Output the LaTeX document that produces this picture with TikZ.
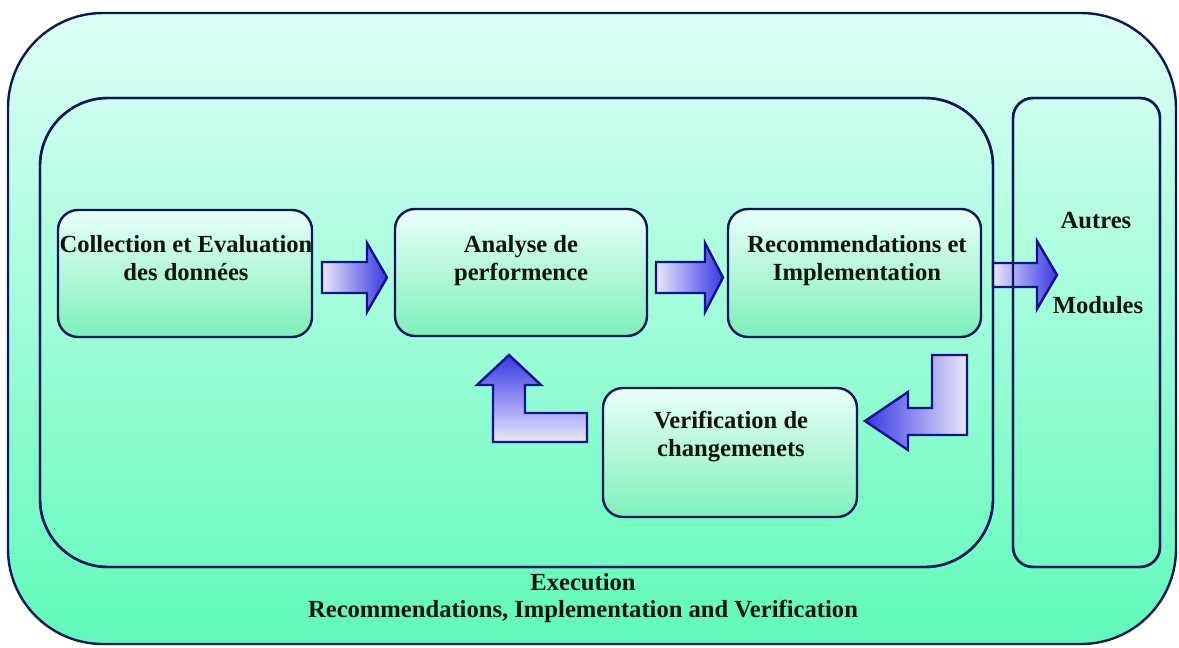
\documentclass[tikz,border=0pt]{standalone}
\usepackage{fontspec}
\setmainfont{Liberation Serif}
\usetikzlibrary{calc}

\definecolor{frame}{RGB}{12,22,95}
\definecolor{bgtop}{RGB}{222,255,246}
\definecolor{bgbot}{RGB}{95,250,185}
\definecolor{boxtop}{RGB}{234,255,251}
\definecolor{boxbot}{RGB}{125,240,185}
\definecolor{arrblue}{RGB}{55,55,228}
\definecolor{arrlight}{RGB}{234,232,252}
\definecolor{arredge}{RGB}{18,18,140}
\definecolor{ink}{RGB}{12,20,12}

\tikzset{
  panel/.style={draw=frame, line width=2.4pt, outer sep=0pt, inner sep=0pt},
  stepbox/.style={panel, rounded corners=20pt, top color=boxtop, bottom color=boxbot},
  blockarrow/.style={draw=arredge, line width=2.4pt, line join=miter},
  lbl/.style={font=\bfseries\fontsize{24.6}{28}\selectfont, text=ink, align=center, inner sep=0pt},
  pics/rightblock/.style n args={4}{code={
    \path[blockarrow, left color=arrlight, right color=arrblue]
      (-#1/2,-#2) -- (#1/2-#4,-#2) -- (#1/2-#4,-#3) -- (#1/2,0)
      -- (#1/2-#4,#3) -- (#1/2-#4,#2) -- (-#1/2,#2) -- cycle;
  }},
}

\begin{document}
\begin{tikzpicture}[x=1pt, y=-1pt]
  \useasboundingbox (0,0) rectangle (1179,648);

  % containers
  \node[panel, rounded corners=95pt, top color=bgtop, bottom color=bgbot,
        minimum width=1168pt, minimum height=631pt] (outer) at (592,328.5) {};
  \node[panel, rounded corners=68pt, minimum width=953pt, minimum height=469pt] (exec) at (516.5,332.5) {};
  \node[panel, rounded corners=20pt, minimum width=147pt, minimum height=469pt] (autres) at (1086.5,332.5) {};

  % process steps
  \node[stepbox, minimum width=254pt, minimum height=127pt] (collect) at (185,273.5) {};
  \node[stepbox, minimum width=252pt, minimum height=127pt] (analyse) at (521,272.5) {};
  \node[stepbox, minimum width=253pt, minimum height=128pt] (recomm) at (854.5,273) {};
  \node[stepbox, minimum width=254pt, minimum height=129pt] (verif) at (730,452.5) {};

  % step labels
  \node[lbl, anchor=north] (tcollect) at ($(collect.north)+(1,25)$) {Collection et Evaluation\\des données};
  \node[lbl, anchor=north] (tanalyse) at ($(analyse.north)+(0,26)$) {Analyse de\\performence};
  \node[lbl, anchor=north] (trecomm) at ($(recomm.north)+(2.5,26)$) {Recommendations et\\Implementation};
  \node[lbl, anchor=north] (tverif) at ($(verif.north)+(1,23)$) {Verification de\\changemenets};
  \node[lbl, anchor=base] (tautres) at ($(autres.north)+(9.5,130)$) {Autres};
  \node[lbl, anchor=base] (tmodules) at ($(autres.north)+(11.5,215)$) {Modules};
  \node[lbl, anchor=north, font=\bfseries\fontsize{24.6}{27}\selectfont] (texec) at ($(exec.south)+(66.5,6)$)
    {Execution\\Recommendations, Implementation and Verification};

  % block arrows between steps
  \coordinate (a1) at ($(collect.east)!0.5!(analyse.west)+(1,4.5)$);
  \coordinate (a2) at ($(analyse.east)!0.5!(recomm.west)+(2,4.75)$);
  \coordinate (a3) at ($(exec.east |- recomm.east)+(32,2)$);
  \pic at (a1) {rightblock={65}{15.5}{34.5}{20}};
  \pic at (a2) {rightblock={67}{15.5}{34.5}{18}};
  \pic at (a3) {rightblock={64}{12}{34}{20}};

  % container outlines run over the exit arrow
  \draw[panel, rounded corners=68pt] (exec.south west) rectangle (exec.north east);
  \draw[panel, rounded corners=20pt] (autres.south west) rectangle (autres.north east);

  % feedback loop: down-left into the verification step
  \coordinate (dn) at ($(recomm.south east)+(-14,18)$);
  \path[blockarrow, left color=arrblue, right color=arrlight]
    (dn) -- ++(0,80) -- ++(-59,0) -- ++(0,15) -- ++(-43,-29) -- ++(43,-29)
    -- ++(0,16) -- ++(24,0) -- ++(0,-53) -- cycle;

  % feedback loop: up into the analysis step
  \coordinate (up) at ($(analyse.south west)+(114,19)$);
  \path[blockarrow, top color=arrblue, bottom color=arrlight]
    (up) -- ++(32,30) -- ++(-16,0) -- ++(0,28) -- ++(62,0) -- ++(0,29)
    -- ++(-94,0) -- ++(0,-57) -- ++(-16,0) -- cycle;
\end{tikzpicture}
\end{document}
